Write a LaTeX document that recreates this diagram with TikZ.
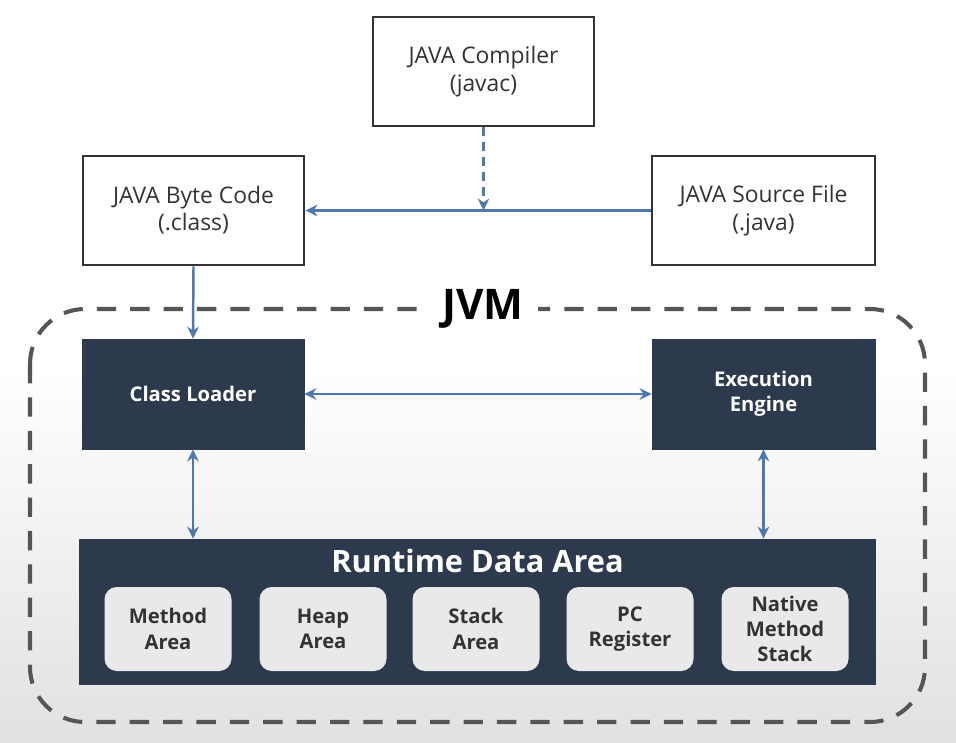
\documentclass[tikz,border=0pt]{standalone}
\usepackage{fontspec}
\setmainfont{Open Sans}
\usetikzlibrary{arrows.meta, positioning, calc}

\begin{document}
\begin{tikzpicture}[
    every node/.style={font=\rmfamily},
]

% ---------------------------------------------------------------- colours
\definecolor{c1}{HTML}{2D3A4D}   % the dark JVM parts
\definecolor{c2}{HTML}{4F79AE}   % connectors
\definecolor{c3}{HTML}{E9E9E9}   % memory slots
\definecolor{c4}{HTML}{333333}   % box outlines, text
\definecolor{dashcolor}{HTML}{555555}
\definecolor{bgbottom}{HTML}{E1E1E1}

% ================================================================
% Geometry: 1 px of the 956 x 742 sketch = 0.02 cm, y runs downward
%   top row      compiler   centre (9.67, -1.43)
%   second row   byte code / source file at y = -4.21
%   JVM frame    (0.60, -6.18) .. (18.50, -14.44), corners 1.1
%   third row    class loader / execution engine at y = -7.88
%   runtime data area centre (9.55, -12.24), slots at pitch 3.09
% ================================================================

\tikzset{
    whitebox/.style={
        draw=c4, line width=1.6pt, fill=white,
        minimum width=4.42cm, minimum height=2.18cm,
        align=center, text=c4,
        font=\fontsize{13}{15.5}\selectfont,
    },
    darkbox/.style={
        draw=c1, fill=c1,
        minimum width=4.44cm, minimum height=2.2cm,
        align=center, text=white,
        font=\bfseries\fontsize{11.5}{14}\selectfont,
    },
    memslot/.style={
        fill=c3, rounded corners=7pt,
        minimum width=2.54cm, minimum height=1.68cm,
        align=center, text=c4, inner sep=0pt,
        font=\bfseries\fontsize{11.5}{14.4}\selectfont,
    },
    flow/.style={draw=c2, line width=1.4pt,
        -{Stealth[length=2.4mm, width=2.3mm]}},
    flowboth/.style={draw=c2, line width=1.4pt,
        {Stealth[length=2.4mm, width=2.3mm]}-{Stealth[length=2.4mm, width=2.3mm]}},
}

% ================================================================ background
\shade[top color=white, bottom color=bgbottom, middle color=white]
    (0,0) rectangle (19.12,-14.84);
\useasboundingbox (0,0) rectangle (19.12,-14.84);

% ================================================================ compile step
\node[whitebox] (comp) at (9.67, -1.43) {JAVA Compiler\\(javac)};
\node[whitebox] (byte) at (3.87, -4.21) {JAVA Byte Code\\(.class)};
\node[whitebox, minimum width=4.46cm] (src) at (15.27, -4.21)
    {JAVA Source File\\(.java)};

\coordinate (join) at (comp.south |- src.west);
\draw[flow] (src.west) -- (byte.east);
\draw[flow, dash pattern=on 5pt off 3.5pt] (comp.south) -- (join);

% ================================================================ JVM frame
\draw[dashcolor, line width=2.3pt, dash pattern=on 11pt off 8pt,
      rounded corners=1.1cm]
    (0.60, -6.18) rectangle (18.50, -14.44);
\node[fill=white, text=black, inner xsep=8pt, inner ysep=2pt,
      font=\bfseries\fontsize{24}{28}\selectfont] (jvm) at (9.66, -6.18) {JVM};

% ================================================================ inside the JVM
\node[darkbox] (cl) at (3.86, -7.88) {Class Loader};
\node[darkbox, minimum width=4.46cm] (ee) at (15.27, -7.88)
    {Execution\\Engine};

\node[fill=c1, minimum width=15.94cm, minimum height=2.92cm] (rda)
    at (9.55, -12.24) {};
\node[text=white, font=\bfseries\fontsize{17.5}{21}\selectfont] (rdatitle)
    at (9.55, -11.22) {Runtime Data Area};

\foreach \i/\x/\w in {1/3.36/Method\\Area, 2/6.46/Heap\\Area,
                      3/9.52/Stack\\Area, 4/12.60/PC\\Register,
                      5/15.70/Native\\Method\\Stack} {
    \node[memslot] (slot\i) at (\x, -12.58) {\w};
}

% ================================================================ connectors
\draw[flow] (byte.south) -- (cl.north);
\draw[flowboth] (cl.east) -- (ee.west);
\draw[flowboth] (cl.south) -- (cl.south |- rda.north);
\draw[flowboth] (ee.south) -- (ee.south |- rda.north);

\end{tikzpicture}
\end{document}
